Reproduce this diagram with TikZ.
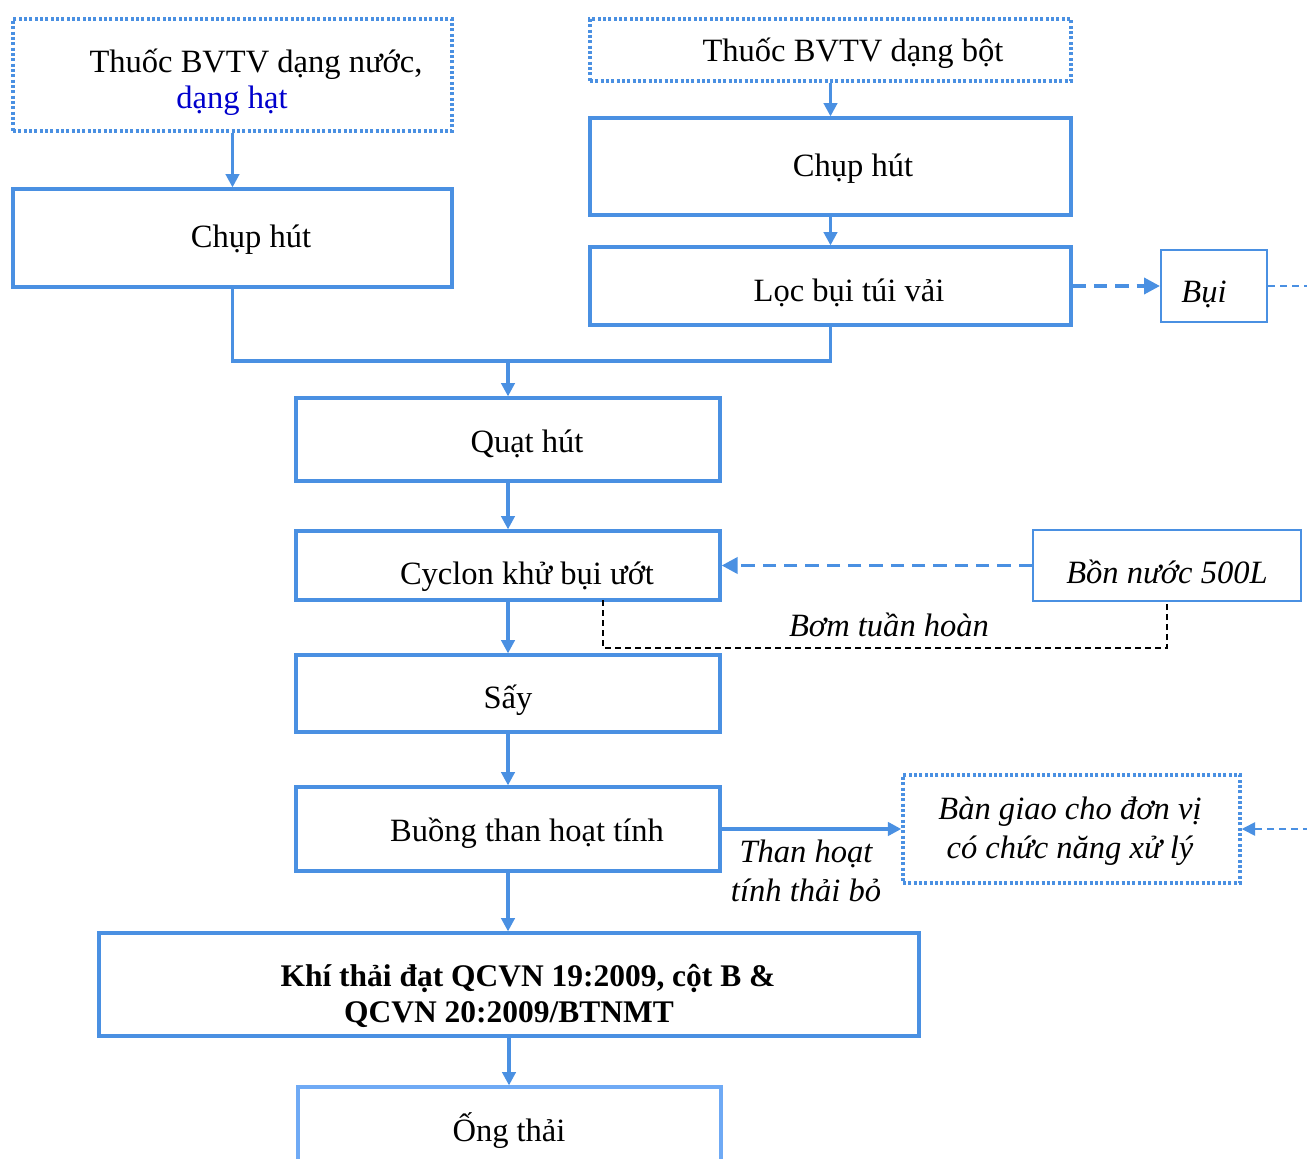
\documentclass[tikz,border=0pt]{standalone}
\usepackage{fontspec}
\setmainfont{Liberation Serif}
\usetikzlibrary{arrows.meta,fit}
\definecolor{bl}{HTML}{4A90E2}
\definecolor{lbl}{HTML}{6FAAF5}
\definecolor{txtblue}{HTML}{0000CC}
\tikzset{
  box/.style={draw=bl, line width=2.4pt, inner sep=0pt, fit={#1}},
  thinbox/.style={draw=bl, line width=1.5pt, inner sep=0pt, fit={#1}},
  dotbox/.style={draw=bl, line width=2.6pt, dash pattern=on 2.2pt off 1.8pt, inner sep=0pt, fit={#1}},
  txt/.style={font=\fontsize{24.4}{29}\selectfont, inner sep=0pt, align=center},
  itxt/.style={txt, font=\fontsize{24.4}{29}\selectfont\itshape},
  btxt/.style={txt, font=\fontsize{23.6}{28}\selectfont\bfseries},
  arr/.style={draw=bl, line width=2.4pt, -{Triangle[length=10pt,width=10pt]}},
  flow/.style={draw=bl, line width=2.4pt},
  dasharr/.style={draw=bl, line width=2.8pt, dash pattern=on 10pt off 6pt, -{Triangle[length=12pt,width=12pt]}},
  thindash/.style={draw=bl, line width=1.2pt, dash pattern=on 5pt off 4pt},
  blackdash/.style={draw=black, line width=1.2pt, dash pattern=on 4.5pt off 3pt},
}
\begin{document}
\begin{tikzpicture}[x=0.75pt,y=-0.75pt]
\useasboundingbox (0,0) rectangle (1307,1159);
\clip (0,0) rectangle (1307,1159);

% boxes
\node[dotbox={(13,19) (452,131)}] (A) {};
\node[box={(13,189) (452,287)}] (B) {};
\node[dotbox={(590,19) (1071,81)}] (C) {};
\node[box={(590,118) (1071,215)}] (D) {};
\node[box={(590,247) (1071,325)}] (E) {};
\node[thinbox={(1161,250) (1267,322)}] (Bui) {};
\node[box={(296,398) (720,481)}] (F) {};
\node[box={(296,531) (720,600)}] (G) {};
\node[thinbox={(1033,530) (1301,601)}] (Bon) {};
\node[box={(296,655) (720,732)}] (H) {};
\node[box={(296,787) (720,871)}] (I) {};
\node[dotbox={(903,775) (1240,883)}] (J) {};
\node[box={(99,933) (919,1036)}] (K) {};
\node[draw=lbl, line width=2.4pt, inner sep=0pt, fit={(298,1087) (721,1190)}] (L) {};

% texts
\node[txt] (tA1) at (256,64) {Thuốc BVTV dạng nước,};
\node[txt, text=txtblue] (tA2) at (232,101) {dạng hạt};
\node[txt] (tB) at (251,240) {Chụp hút};
\node[txt] (tC) at (853,53) {Thuốc BVTV dạng bột};
\node[txt] (tD) at (853,169) {Chụp hút};
\node[txt] (tE) at (849,293) {Lọc bụi túi vải};
\node[itxt] (tBui) at (1204,294) {Bụi};
\node[txt] (tF) at (527,444) {Quạt hút};
\node[txt] (tG) at (527,577) {Cyclon khử bụi ướt};
\node[itxt] (tBon) at (1167,572) {Bồn nước 500L};
\node[itxt] (tBom) at (889,625) {Bơm tuần hoàn};
\node[txt] (tH) at (508,700) {Sấy};
\node[txt] (tI) at (527,833) {Buồng than hoạt tính};
\node[itxt] (tThan) at (806,871) {Than hoạt\\tính thải bỏ};
\node[itxt] (tJ) at (1070,831) {Bàn giao cho đơn vị\\có chức năng xử lý};
\node[btxt] (tK1) at (528,978) {Khí thải đạt QCVN 19:2009, cột B \&};
\node[btxt] (tK2) at (509,1015) {QCVN 20:2009/BTNMT};
\node[txt] (tL) at (509,1131) {Ống thải};

% connectors
\coordinate (merge) at (508,361);
\coordinate (pumpTop) at (603,600);
\coordinate (pumpBot) at (603,648);
\coordinate (buiOut) at (1310,286);
\coordinate (jIn) at (1310,829);

\draw[arr] (A.south) -- (B.north);
\draw[arr] (C.south) -- (D.north);
\draw[arr] (D.south) -- (E.north);
\draw[flow] (B.south) |- (merge) -| (E.south);
\draw[arr] (merge) -- (F.north);
\draw[arr] (F.south) -- (G.north);
\draw[arr] (G.south) -- (H.north);
\draw[arr] (H.south) -- (I.north);
\draw[arr] (I.south) -- (I.south |- K.north);
\draw[arr] (K.south) -- (K.south |- L.north);
\draw[dasharr] (E.east) -- (Bui.west);
\draw[thindash] (Bui.east) -- (buiOut);
\draw[dasharr] (Bon.west) -- (G.east);
\draw[blackdash] (pumpTop) -- (pumpBot) -| (Bon.south);
\draw[arr] (I.east) -- (J.west);
\draw[thindash, -{Triangle[length=10pt,width=10pt]}] (jIn) -- (J.east);
\end{tikzpicture}
\end{document}
